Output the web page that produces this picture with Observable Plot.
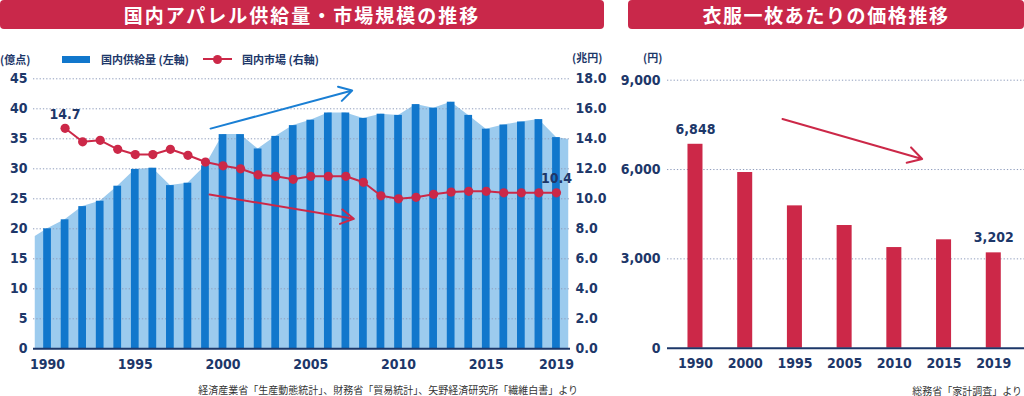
<!DOCTYPE html>
<html><head><meta charset="utf-8">
<script src="https://cdn.jsdelivr.net/npm/d3@7"></script>
<script src="https://cdn.jsdelivr.net/npm/@observablehq/plot@0.6"></script>
<style>
html,body{margin:0;padding:0;background:#fff;}
body{width:1024px;height:396px;position:relative;overflow:hidden;font-family:"Noto Sans CJK JP","Noto Sans",sans-serif;}
.title{position:absolute;top:0;height:29px;background:#c9284a;color:#fff;font-weight:700;font-size:19px;display:flex;align-items:center;justify-content:center;border-radius:4px;}
.lbl{position:absolute;color:#1d3769;font-weight:700;font-size:11px;line-height:14px;white-space:nowrap;}
.cap{position:absolute;color:#333;font-size:10px;line-height:12px;white-space:nowrap;}
.chart{position:absolute;top:66px;}
</style></head>
<body>
<div class="title" style="left:0;width:604px;letter-spacing:2px;">国内アパレル供給量・市場規模の推移</div>
<div class="title" style="left:628px;width:396px;letter-spacing:1.6px;">衣服一枚あたりの価格推移</div>

<div class="lbl" style="left:0;top:52px;">(億点)</div>
<div style="position:absolute;left:62px;top:56px;width:28px;height:7px;background:#1177cc;"></div>
<div class="lbl" style="left:101px;top:52px;">国内供給量 (左軸)</div>
<div style="position:absolute;left:203px;top:58px;width:29px;height:2px;background:#cc2848;"></div>
<div style="position:absolute;left:213px;top:54.5px;width:9px;height:9px;border-radius:50%;background:#cc2848;"></div>
<div class="lbl" style="left:242px;top:52px;">国内市場 (右軸)</div>
<div class="lbl" style="left:572px;top:50px;">(兆円)</div>
<div class="lbl" style="left:643px;top:50px;">(円)</div>

<div id="left" class="chart" style="left:0;"></div>
<div id="right" class="chart" style="left:610px;"></div>

<div class="cap" style="right:446px;top:384px;">経済産業省「生産動態統計」、財務省「貿易統計」、矢野経済研究所「繊維白書」より</div>
<div class="cap" style="right:2px;top:385px;">総務省「家計調査」より</div>

<script>
// ---- Left chart data ----
const supplyYears = [1990,1991,1992,1993,1994,1995,1996,1997,1998,1999,2000,2001,2002,2003,2004,2005,2006,2007,2008,2009,2010,2011,2012,2013,2014,2015,2016,2017,2018,2019];
const supplyValues = [20.0,21.5,23.7,24.6,27.1,29.9,30.1,27.2,27.6,30.5,35.7,35.7,33.3,35.4,37.2,38.1,39.3,39.3,38.4,39.1,38.9,40.7,40.1,41.1,38.9,36.6,37.3,37.8,38.2,35.2];
const areaEdgeYears = [1989.3, 2019.7];
const areaEdgeValues = [18.7, 34.9];
const marketYears = [1991,1992,1993,1994,1995,1996,1997,1998,1999,2000,2001,2002,2003,2004,2005,2006,2007,2008,2009,2010,2011,2012,2013,2014,2015,2016,2017,2018,2019];
const marketValues = [14.7,13.8,13.9,13.3,12.95,12.95,13.3,12.9,12.45,12.2,12.0,11.6,11.5,11.3,11.5,11.5,11.5,11.1,10.2,10.0,10.1,10.3,10.45,10.5,10.5,10.4,10.4,10.4,10.4];
const leftTicks = [0,5,10,15,20,25,30,35,40,45];
const xTicks = [1990,1995,2000,2005,2010,2015,2019];
const leftArrows = [
  {x1:1999.29, y1:36.7, x2:2007.36, y2:43.05, c:"#1a7fd4"},
  {x1:1999.23, y1:25.7, x2:2007.45, y2:21.67, c:"#cc2848"}
];

// ---- Right chart data ----
const priceYears = ["1990","2000","1995","2005","2010","2015","2019"];
const priceValues = [6848,5900,4780,4120,3380,3640,3202];
const priceTicks = [0,3000,6000,9000];
const rightArrow = [{x1:1.75, y1:7698, x2:4.56, y2:6356}];

const NAVY = "#1d3769", BLUE = "#1177cc", LIGHT = "#9ccbee", RED = "#cc2848", GRID = "#8f9dbd";
const RATIO = 45/18;
const font = {fontFamily:'"Liberation Sans Narrow","DejaVu Sans Condensed",sans-serif', fontSize:"14px", fontWeight:"bold", color:NAVY, background:"transparent", overflow:"visible"};

const supply = supplyYears.map((y,i)=>({year:y, v:supplyValues[i]}));
const area = [{year:areaEdgeYears[0], v:areaEdgeValues[0]}, ...supply, {year:areaEdgeYears[1], v:areaEdgeValues[1]}];
const market = marketYears.map((y,i)=>({year:y, v:marketValues[i]}));
const marketLabels = [market[0], market[market.length-1]];

const left = Plot.plot({
  width:604, height:300, marginLeft:33, marginRight:34, marginTop:12.3, marginBottom:17.7,
  x:{type:"linear", domain:[1989.2,2019.8]},
  y:{domain:[0,45]},
  style:font,
  marks:[
    Plot.area(area, {x1:"year", y1:()=>0, y2:"v", fill:LIGHT}),
    Plot.gridY({ticks:leftTicks.filter(d=>d>0), stroke:GRID, strokeOpacity:1, strokeWidth:1, strokeDasharray:"1.3 2"}),
    Plot.rect(supply, {x1:d=>d.year-0.22, x2:d=>d.year+0.22, y1:()=>0, y2:"v", fill:BLUE}),
    Plot.ruleY([0], {stroke:NAVY, strokeWidth:2}),
    Plot.arrow(leftArrows, {x1:"x1", y1:"y1", x2:"x2", y2:"y2", stroke:"c", strokeWidth:2, headLength:11, headAngle:60}),
    Plot.line(market, {x:"year", y:d=>d.v*RATIO, stroke:RED, strokeWidth:2}),
    Plot.dot(market, {x:"year", y:d=>d.v*RATIO, r:4.6, fill:RED, stroke:"none"}),
    Plot.text(marketLabels, {x:"year", y:d=>d.v*RATIO, text:d=>d.v.toFixed(1), dy:-14, fill:NAVY, fontSize:14}),
    Plot.axisY({anchor:"left", ticks:leftTicks, tickSize:0, tickPadding:6, tickFormat:d=>String(d)}),
    Plot.axisY({anchor:"right", ticks:leftTicks, tickSize:0, tickPadding:5, tickFormat:d=>(d/RATIO).toFixed(1)}),
    Plot.axisX({ticks:xTicks, tickSize:0, tickPadding:10, tickFormat:d=>String(d)})
  ]
});
document.getElementById("left").appendChild(left);

const price = priceYears.map((y,i)=>({i, year:y, v:priceValues[i]}));
const priceLabels = [price[0], price[price.length-1]];
const right = Plot.plot({
  width:414, height:300, marginLeft:57, marginRight:0, marginTop:13.7, marginBottom:18.3,
  x:{type:"linear", domain:[-0.563,6.618]},
  y:{domain:[0,9000]},
  style:font,
  marks:[
    Plot.gridY({ticks:priceTicks.filter(d=>d>0), stroke:GRID, strokeOpacity:1, strokeWidth:1, strokeDasharray:"1.3 2"}),
    Plot.rect(price, {x1:d=>d.i-0.151, x2:d=>d.i+0.151, y1:()=>0, y2:"v", fill:RED}),
    Plot.ruleY([0], {stroke:NAVY, strokeWidth:2}),
    Plot.arrow(rightArrow, {x1:"x1", y1:"y1", x2:"x2", y2:"y2", stroke:RED, strokeWidth:2, headLength:12, headAngle:60}),
    Plot.text(priceLabels, {x:"i", y:"v", text:d=>d3.format(",")(d.v), dy:-15, fill:NAVY, fontSize:14}),
    Plot.axisY({anchor:"left", ticks:priceTicks, tickSize:0, tickPadding:7, tickFormat:d3.format(",")}),
    Plot.axisX({ticks:priceYears.map((d,i)=>i), tickSize:0, tickPadding:10, tickFormat:i=>priceYears[i]})
  ]
});
document.getElementById("right").appendChild(right);
</script>
</body></html>
